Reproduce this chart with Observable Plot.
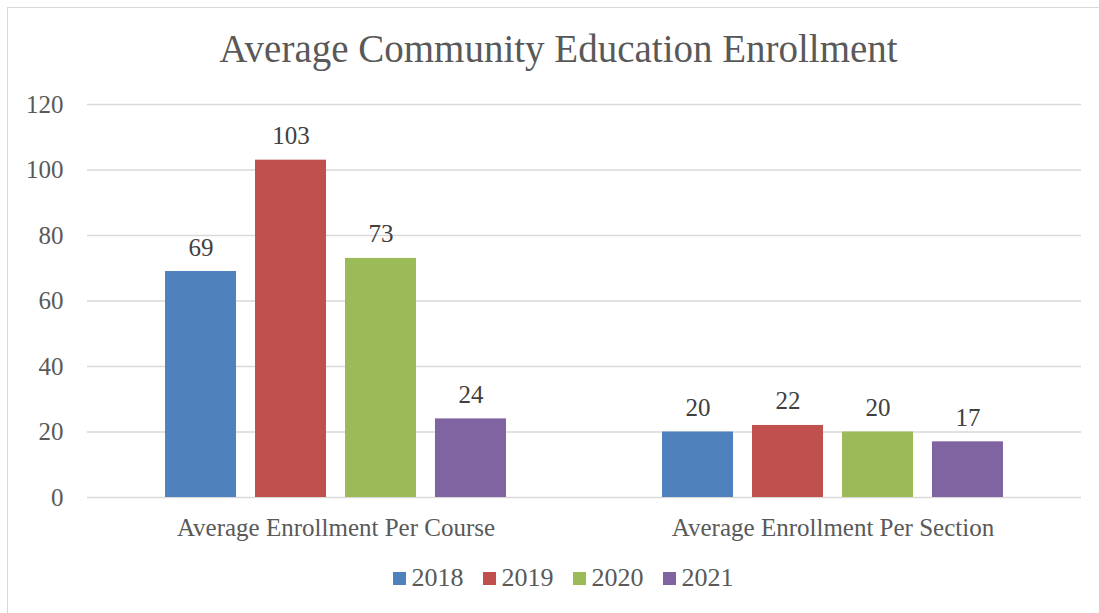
<!DOCTYPE html>
<html>
<head>
<meta charset="utf-8">
<script src="https://cdn.jsdelivr.net/npm/d3@7"></script>
<script src="https://cdn.jsdelivr.net/npm/@observablehq/plot@0.6"></script>
<style>
  html, body { margin: 0; padding: 0; background: #fff; }
  body { width: 1099px; height: 613px; position: relative; overflow: hidden; font-family: "Liberation Serif", serif; color: #595959; }
  #frame { position: absolute; left: 7px; top: 7px; width: 1200px; height: 700px; border: 1.5px solid #d9d9d9; box-sizing: border-box; }
  #title { position: absolute; left: 0; width: 1117px; top: 26px; text-align: center; font-size: 39px; color: #595959; white-space: nowrap; }
  #chart { position: absolute; left: 0; top: 84px; }
  #legend { position: absolute; left: 0; width: 1126px; top: 563px; display: flex; justify-content: center; gap: 19px; font-size: 26px; color: #595959; }
  .item { display: flex; align-items: center; gap: 6px; }
  .sw { width: 13px; height: 13px; display: inline-block; }
</style>
</head>
<body>
<div id="frame"></div>
<div id="title">Average Community Education Enrollment</div>
<div id="chart"></div>
<div id="legend"></div>
<script>
const categories = ["Average Enrollment Per Course", "Average Enrollment Per Section"];
const years = ["2018", "2019", "2020", "2021"];
const colors = ["#4F81BD", "#C0504D", "#9BBB59", "#8064A2"];
const values2018 = [69, 20];
const values2019 = [103, 22];
const values2020 = [73, 20];
const values2021 = [24, 17];
const yTicks = [0, 20, 40, 60, 80, 100, 120];

const series = [values2018, values2019, values2020, values2021];
const data = [];
categories.forEach((c, ci) => {
  years.forEach((y, yi) => data.push({category: c, year: y, value: series[yi][ci]}));
});

const chart = Plot.plot({
  width: 1099,
  height: 463,
  marginTop: 20,
  marginBottom: 50,
  marginLeft: 87,
  marginRight: 18,
  style: {fontFamily: "Liberation Serif, serif", fontSize: "25px", color: "#595959", background: "transparent"},
  fx: {domain: categories, padding: 0, round: false, label: null, axis: "bottom", tickSize: 0, tickPadding: 21},
  x: {domain: years, paddingInner: 0.211, paddingOuter: 0.867, round: false, axis: null},
  y: {domain: [0, 120], ticks: yTicks, tickSize: 0, tickPadding: 24, label: null, tickFormat: d3.format("d")},
  color: {domain: years, range: colors},
  marks: [
    Plot.ruleY(yTicks, {stroke: "#d9d9d9", strokeWidth: 1.5, strokeOpacity: 1}),
    Plot.barY(data, {fx: "category", x: "year", y: "value", fill: "year"}),
    Plot.text(data, {fx: "category", x: "year", y: "value", text: d => String(d.value), dy: -24, fill: "#404040", fontSize: 25})
  ]
});
document.getElementById("chart").appendChild(chart);

const legend = document.getElementById("legend");
years.forEach((y, i) => {
  const item = document.createElement("div");
  item.className = "item";
  const sw = document.createElement("span");
  sw.className = "sw";
  sw.style.background = colors[i];
  const t = document.createElement("span");
  t.textContent = y;
  item.appendChild(sw);
  item.appendChild(t);
  legend.appendChild(item);
});
</script>
</body>
</html>
